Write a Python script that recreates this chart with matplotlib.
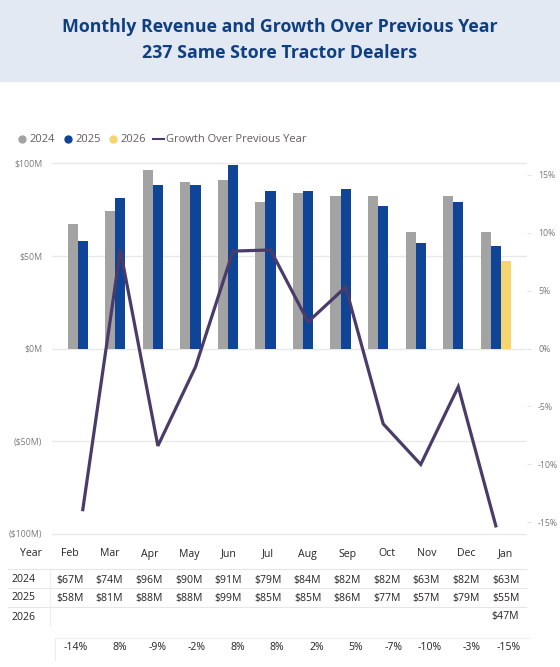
import numpy as np
import matplotlib.pyplot as plt
from matplotlib.lines import Line2D
from matplotlib.patches import Rectangle

plt.rcParams['font.family'] = ['Open Sans', 'DejaVu Sans']

months = ['Feb', 'Mar', 'Apr', 'May', 'Jun', 'Jul', 'Aug', 'Sep', 'Oct', 'Nov', 'Dec', 'Jan']
rev_2024 = [67, 74, 96, 90, 91, 79, 84, 82, 82, 63, 82, 63]
rev_2025 = [58, 81, 88, 88, 99, 85, 85, 86, 77, 57, 79, 55]
rev_2026 = [None] * 11 + [47]
growth = [-13.9, 8.5, -8.4, -1.6, 8.4, 8.5, 2.3, 5.3, -6.5, -10.0, -3.3, -15.3]
growth_labels = ['-14%', '8%', '-9%', '-2%', '8%', '8%', '2%', '5%', '-7%', '-10%', '-3%', '-15%']

c24, c25, c26 = '#a3a3a3', '#0f4496', '#f6d46f'
cline = '#4a3b68'
txt = '#252423'
axtxt = '#7a7a7a'

W, H = 560, 667
fig = plt.figure(figsize=(W / 100, H / 100), dpi=100)

def fx(x):
    return x / W

def fy(y):
    return 1 - y / H

# title band
fig.patches.append(Rectangle((0, fy(81)), 1, 81 / H, transform=fig.transFigure,
                             color='#e2e9f3', zorder=0))
fig.text(0.5, fy(27), 'Monthly Revenue and Growth Over Previous Year', ha='center', va='center',
         fontsize=12.8, fontweight='bold', color='#0f3f80')
fig.text(0.5, fy(53), '237 Same Store Tractor Dealers', ha='center', va='center',
         fontsize=12.8, fontweight='bold', color='#0f3f80')

# main chart ($100M at y=163, -$100M at y=534, small margin so edge gridlines show)
pad = 1.855
ax = fig.add_axes([fx(52), fy(534 + pad), fx(527) - fx(52), (534 - 163 + 2 * pad) / H])
x = np.arange(len(months))
bw = 0.27
ax.bar(x - bw, rev_2024, bw, color=c24, zorder=2)
ax.bar(x, rev_2025, bw, color=c25, zorder=2)
v26 = [np.nan if v is None else v for v in rev_2026]
ax.bar(x + bw, v26, bw, color=c26, zorder=2)
ax.set_xlim(-0.82, 11.83)
ax.set_ylim(-101, 101)
ax.set_yticks([100, 50, 0, -50, -100])
ax.set_yticklabels(['$100M', '$50M', '$0M', '($50M)', '($100M)'])
ax.tick_params(axis='y', length=0, pad=7, labelsize=6.3, labelcolor=axtxt)
ax.set_xticks([])
ax.grid(axis='y', color='#e9e9e9', linewidth=1, zorder=0)
for s in ax.spines.values():
    s.set_visible(False)

ax2 = ax.twinx()
ax2.plot(x, growth, color=cline, linewidth=2.3, zorder=5, solid_joinstyle='miter')
ax2.set_ylim(-16.16, 16.16)
ax2.set_yticks([15, 10, 5, 0, -5, -10, -15])
ax2.set_yticklabels(['15%', '10%', '5%', '0%', '-5%', '-10%', '-15%'])
ax2.tick_params(axis='y', length=3, width=0.8, color='#e4e4e4', pad=5, labelsize=6.3, labelcolor=axtxt)
for s in ax2.spines.values():
    s.set_visible(False)

# legend
handles = [Line2D([], [], marker='o', linestyle='none', color=c24, markersize=5),
           Line2D([], [], marker='o', linestyle='none', color=c25, markersize=5),
           Line2D([], [], marker='o', linestyle='none', color=c26, markersize=5),
           Line2D([], [], color=cline, linewidth=1.5)]
fig.legend(handles, ['2024', '2025', '2026', 'Growth Over Previous Year'], ncol=4,
           loc='center left', bbox_to_anchor=(fx(11), fy(140)), frameon=False,
           fontsize=8, labelcolor='#605e5c', handletextpad=0.2, columnspacing=0.6,
           handlelength=1.0, borderpad=0)

# table
fs = 7.6
sep = '#e6e6e6'
col_x = [70 + 39.6 * i for i in range(12)]
fig.text(fx(20), fy(554), 'Year', ha='left', va='center', fontsize=fs, color=txt)
for cx, m in zip(col_x, months):
    fig.text(fx(cx), fy(554), m, ha='center', va='center', fontsize=fs, color=txt)
rows = [('2024', rev_2024, 580), ('2025', rev_2025, 598), ('2026', rev_2026, 617)]
for lab, vals, yy in rows:
    fig.text(fx(12), fy(yy), lab, ha='left', va='center', fontsize=fs, color=txt)
    for cx, v in zip(col_x, vals):
        if v is not None:
            fig.text(fx(cx), fy(yy), f'${v}M', ha='center', va='center', fontsize=fs, color=txt)
for yy in (569, 588, 607):
    fig.add_artist(Line2D([fx(8), fx(526)], [fy(yy), fy(yy)], color=sep, linewidth=0.8))
fig.add_artist(Line2D([fx(50), fx(50)], [fy(569), fy(626)], color='#ededed', linewidth=0.8))

# growth row
fig.add_artist(Line2D([fx(55), fx(530)], [fy(638), fy(638)], color='#f0f0f0', linewidth=0.8))
fig.add_artist(Line2D([fx(55), fx(55)], [fy(638), fy(660)], color='#ececec', linewidth=0.8))
for i, g in enumerate(growth_labels):
    fig.text(fx(88 + 39.3 * i), fy(648), g, ha='right', va='center', fontsize=fs, color=txt)

fig.savefig('out.png', dpi=100)
